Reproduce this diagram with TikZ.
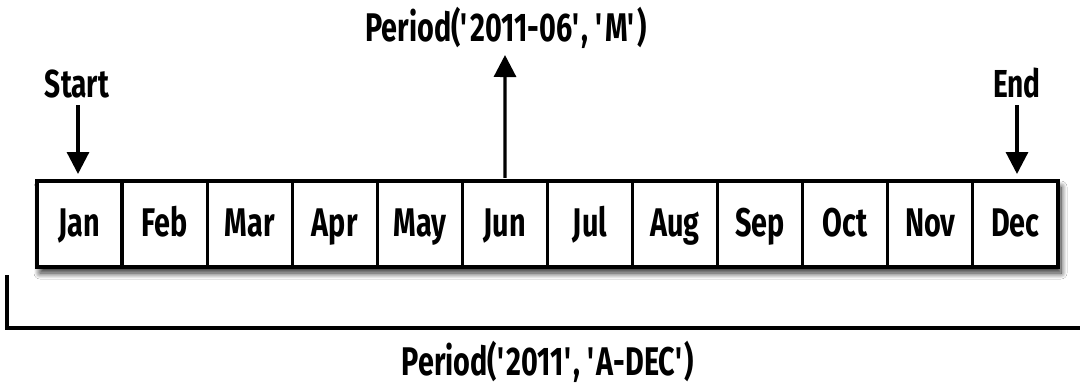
\documentclass[tikz,border=0pt]{standalone}
\usepackage{fontspec}
\setmainfont{Fira Sans}[FakeStretch=0.72]
\usetikzlibrary{arrows.meta,shadows.blur}
\begin{document}
\begin{tikzpicture}[x=1pt,y=-1pt,
  lbl/.style={font=\fontsize{40}{46}\selectfont\bfseries, inner sep=0pt, anchor=base},
  small/.style={font=\fontsize{39}{44}\selectfont\bfseries, inner sep=0pt, anchor=base},
  cell/.style={draw=black, line width=3.2pt, fill=white, minimum width=85.08pt, minimum height=86pt, inner sep=0pt},
  conn/.style={line width=3.2pt, -{Triangle[width=22pt,length=22pt,fill=black]}},
  brk/.style={line width=3.2pt}]
\useasboundingbox (0,0) rectangle (1080,386);
\fill[white] (0,0) rectangle (1080,386);
% shadowed background box
\path[fill=white, blur shadow={shadow xshift=3pt, shadow yshift=-6pt, shadow blur steps=12, shadow blur radius=6pt, shadow opacity=85}] (37,181) rectangle (1058,267);
\foreach \m [count=\i] in {Jan,Feb,Mar,Apr,May,Jun,Jul,Aug,Sep,Oct,Nov,Dec}{
  \node[cell] (m\i) at ({37+85.08*(\i-0.5)},224) {};
  \node[lbl] (t\i) at ({37+85.08*(\i-0.5)},236) {\m};
}
\node[small] (start) at (77,97) {Start};
\node[small] (end) at (1017,97) {End};
\node[lbl] (pm) at (506,41) {Period(\textquotesingle2011-06\textquotesingle, \textquotesingle M\textquotesingle)};
\node[lbl] (pa) at (548,375) {Period(\textquotesingle2011\textquotesingle, \textquotesingle A-DEC\textquotesingle)};
\coordinate (sA) at (78,105);
\coordinate (sB) at (78,174);
\coordinate (eA) at (1017,105);
\coordinate (eB) at (1017,174);
\coordinate (mA) at (m6.north);
\coordinate (mB) at (505,55);
\draw[conn] (sA) -- (sB);
\draw[conn] (eA) -- (eB);
\draw[conn] ([yshift=1.6pt]mA) -- (mB);
\coordinate (b1) at (7,275);
\coordinate (b2) at (7,328);
\coordinate (b3) at (1080,328);
\draw[brk] (b1) -- (b2) -- (b3);
\end{tikzpicture}
\end{document}
